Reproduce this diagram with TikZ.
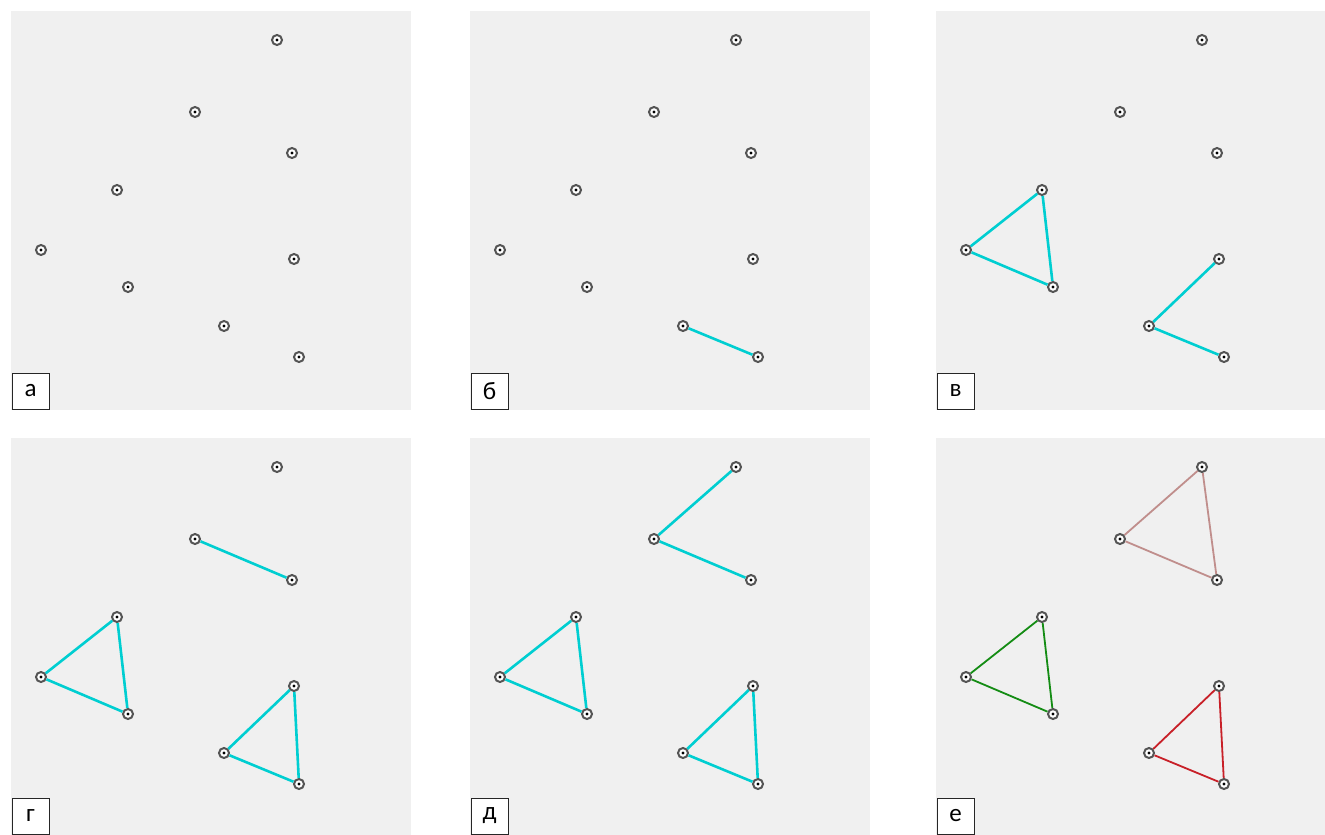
\documentclass[tikz,border=0pt]{standalone}
\usepackage{fontspec}
\setmainfont{Carlito}
\usepackage{xcolor}
\definecolor{panelgray}{RGB}{240, 240, 240}
\definecolor{ringgray}{RGB}{85, 85, 85}
\definecolor{linkcyan}{RGB}{0, 206, 209}
\definecolor{rose}{RGB}{192, 142, 140}
\definecolor{leaf}{RGB}{20, 140, 20}
\definecolor{brick}{RGB}{200, 32, 40}
\usepackage{tikz}

\begin{document}
\begin{tikzpicture}[
        x=1pt, y=-1pt,
        panel/.style={fill=panelgray, draw=none},
        pt/.style={circle, draw=ringgray, line width=2pt, fill=white, inner sep=0pt, minimum size=10pt,
            path picture={\fill[black] (path picture bounding box.center) circle (1.7pt);}},
        tag/.style={rectangle, draw=black!85, line width=1pt, fill=white, minimum width=37pt, minimum height=36pt, inner sep=0pt, font=\fontsize{25}{25}\selectfont},
        link/.style={line width=2.6pt, linkcyan},
        done/.style={line width=1.8pt}
    ]
    \useasboundingbox (0,0) rectangle (1325,835);
    % panels
    \foreach \dx/\dy/\w in {0/0/400, 459/0/400, 925/0/390, 0/427/400, 459/427/400, 925/427/390}
        \fill[panel] (11+\dx,11+\dy) rectangle (11+\dx+\w,410+\dy);
    % points of every panel
    \foreach \pn/\dx/\dy in {a/0/0, b/459/0, c/925/0, d/0/427, e/459/427, f/925/427}
        \foreach \i/\x/\y in {1/277/40, 2/195/112, 3/292/153, 4/117/190, 5/41/250, 6/294/259, 7/128/287, 8/224/326, 9/299/357}
            \node[pt] (\pn\i) at (\x+\dx,\y+\dy) {};
    % labels
    \node[tag] (la) at (30.5,391) {а};
    \node[tag] (lb) at (489.5,391) {б};
    \node[tag] (lc) at (955.5,391) {в};
    \node[tag] (ld) at (30.5,816) {г};
    \node[tag] (le) at (489.5,816) {д};
    \node[tag] (lf) at (955.5,816) {е};
    % б
    \draw[link] (b8) -- (b9);
    % в
    \draw[link] (c4) -- (c5);
    \draw[link] (c5) -- (c7);
    \draw[link] (c7) -- (c4);
    \draw[link] (c6) -- (c8);
    \draw[link] (c8) -- (c9);
    % г
    \draw[link] (d4) -- (d5);
    \draw[link] (d5) -- (d7);
    \draw[link] (d7) -- (d4);
    \draw[link] (d6) -- (d8);
    \draw[link] (d8) -- (d9);
    \draw[link] (d9) -- (d6);
    \draw[link] (d2) -- (d3);
    % д
    \draw[link] (e4) -- (e5);
    \draw[link] (e5) -- (e7);
    \draw[link] (e7) -- (e4);
    \draw[link] (e6) -- (e8);
    \draw[link] (e8) -- (e9);
    \draw[link] (e9) -- (e6);
    \draw[link] (e1) -- (e2);
    \draw[link] (e2) -- (e3);
    % е
    \draw[done, rose] (f1) -- (f2);
    \draw[done, rose] (f2) -- (f3);
    \draw[done, rose] (f3) -- (f1);
    \draw[done, leaf] (f4) -- (f5);
    \draw[done, leaf] (f5) -- (f7);
    \draw[done, leaf] (f7) -- (f4);
    \draw[done, brick] (f6) -- (f8);
    \draw[done, brick] (f8) -- (f9);
    \draw[done, brick] (f9) -- (f6);
\end{tikzpicture}
\end{document}
